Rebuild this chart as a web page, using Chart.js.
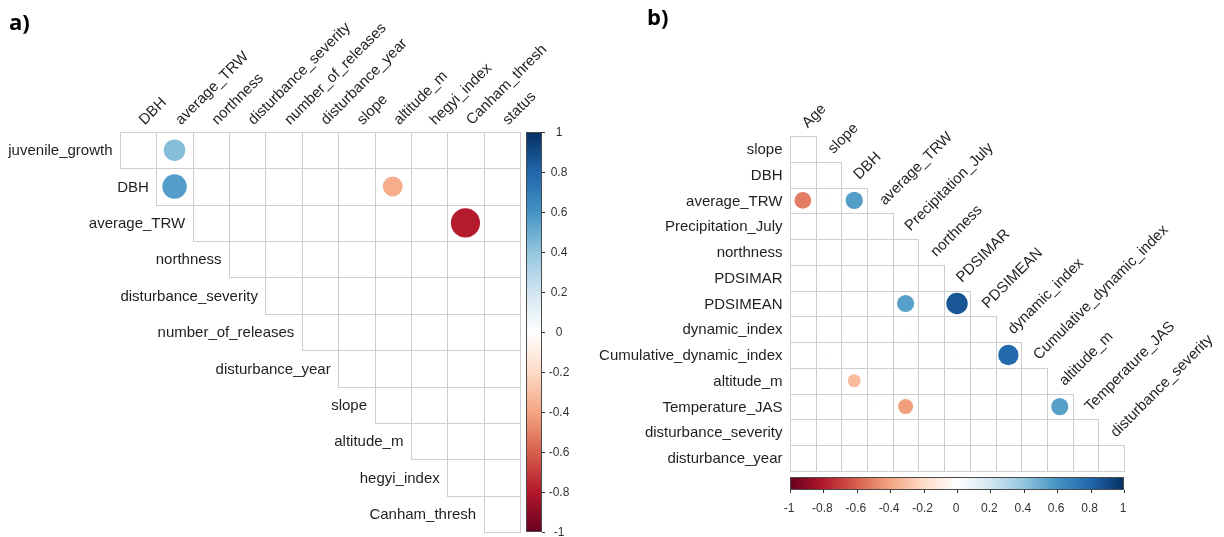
<!DOCTYPE html>
<html>
<head>
<meta charset="utf-8">
<script src="https://cdn.jsdelivr.net/npm/chart.js@4/dist/chart.umd.min.js"></script>
<style>
  html, body { margin: 0; padding: 0; background: #ffffff; }
  #wrap { position: relative; width: 1224px; height: 537px; overflow: hidden; background: #ffffff; }
  #wrap canvas { position: absolute; top: 0; }
</style>
</head>
<body>
<div id="wrap">
  <canvas id="panelA" width="612" height="537" style="left:0px"></canvas>
  <canvas id="panelB" width="694" height="537" style="left:530px"></canvas>
</div>
<script>
// ---- panel a: upper-triangle correlation matrix ----
const rowsA = ['juvenile_growth', 'DBH', 'average_TRW', 'northness', 'disturbance_severity',
  'number_of_releases', 'disturbance_year', 'slope', 'altitude_m', 'hegyi_index', 'Canham_thresh'];
const colsA = ['DBH', 'average_TRW', 'northness', 'disturbance_severity', 'number_of_releases',
  'disturbance_year', 'slope', 'altitude_m', 'hegyi_index', 'Canham_thresh', 'status'];
// significant correlations: [row, column, r]
const pairsA = [
  ['juvenile_growth', 'average_TRW', 0.43],
  ['DBH', 'average_TRW', 0.56],
  ['DBH', 'altitude_m', -0.37],
  ['average_TRW', 'Canham_thresh', -0.79]
];

// ---- panel b: lower-triangle correlation matrix ----
const rowsB = ['slope', 'DBH', 'average_TRW', 'Precipitation_July', 'northness', 'PDSIMAR',
  'PDSIMEAN', 'dynamic_index', 'Cumulative_dynamic_index', 'altitude_m', 'Temperature_JAS',
  'disturbance_severity', 'disturbance_year'];
const colsB = ['Age', 'slope', 'DBH', 'average_TRW', 'Precipitation_July', 'northness', 'PDSIMAR',
  'PDSIMEAN', 'dynamic_index', 'Cumulative_dynamic_index', 'altitude_m', 'Temperature_JAS',
  'disturbance_severity'];
const pairsB = [
  ['average_TRW', 'Age', -0.52],
  ['average_TRW', 'slope', 0.03],
  ['average_TRW', 'DBH', 0.56],
  ['PDSIMEAN', 'Precipitation_July', 0.55],
  ['PDSIMEAN', 'PDSIMAR', 0.86],
  ['dynamic_index', 'Precipitation_July', 0.02],
  ['Cumulative_dynamic_index', 'slope', 0.02],
  ['Cumulative_dynamic_index', 'PDSIMAR', 0.03],
  ['Cumulative_dynamic_index', 'dynamic_index', 0.78],
  ['altitude_m', 'DBH', -0.32],
  ['Temperature_JAS', 'average_TRW', -0.02],
  ['Temperature_JAS', 'Precipitation_July', -0.42],
  ['Temperature_JAS', 'altitude_m', 0.55]
];

// colour legend
const legendTicks = [-1, -0.8, -0.6, -0.4, -0.2, 0, 0.2, 0.4, 0.6, 0.8, 1];
const paletteRdBu = ['#67001F', '#B2182B', '#D6604D', '#F4A582', '#FDDBC7', '#FFFFFF',
  '#D1E5F0', '#92C5DE', '#4393C3', '#2166AC', '#053061'];

const LABEL_FONT = '15px "Liberation Sans", Arial, sans-serif';
const TICK_FONT = '12px "Liberation Sans", Arial, sans-serif';
const TAG_FONT = 'bold 22px "Open Sans", "Liberation Sans", sans-serif';
const TEXT_COLOR = '#1f1f1f';
const GRID_COLOR = '#cdcdcd';

function hexToRgb(h) {
  return [parseInt(h.slice(1, 3), 16), parseInt(h.slice(3, 5), 16), parseInt(h.slice(5, 7), 16)];
}
const paletteRgb = paletteRdBu.map(hexToRgb);

// map r in [-1, 1] onto the diverging palette
function corrColor(v) {
  const t = Math.max(0, Math.min(1, (v + 1) / 2)) * (paletteRgb.length - 1);
  const i = Math.min(paletteRgb.length - 2, Math.floor(t));
  const f = t - i;
  const a = paletteRgb[i], b = paletteRgb[i + 1];
  const c = a.map((x, k) => Math.round(x + (b[k] - x) * f));
  return 'rgb(' + c.join(',') + ')';
}

function toPoints(pairs, rows, cols) {
  return pairs.map(([r, c, v]) => ({ x: cols.indexOf(c), y: rows.indexOf(r), v: v }));
}

function cellSize(chart) {
  const xs = chart.scales.x, ys = chart.scales.y;
  const w = Math.abs(xs.getPixelForValue(1) - xs.getPixelForValue(0));
  const h = Math.abs(ys.getPixelForValue(1) - ys.getPixelForValue(0));
  return Math.min(w, h);
}

// outline every cell that belongs to the drawn triangle
function cellGridPlugin(rows, cols, inTriangle) {
  return {
    id: 'cellGrid',
    beforeDatasetsDraw(chart) {
      const ctx = chart.ctx, xs = chart.scales.x, ys = chart.scales.y;
      ctx.save();
      ctx.strokeStyle = GRID_COLOR;
      ctx.lineWidth = 1;
      for (let i = 0; i < rows.length; i++) {
        for (let j = 0; j < cols.length; j++) {
          if (!inTriangle(i, j)) continue;
          const xa = Math.round(xs.getPixelForValue(j - 0.5)) + 0.5;
          const xb = Math.round(xs.getPixelForValue(j + 0.5)) + 0.5;
          const ya = Math.round(ys.getPixelForValue(i - 0.5)) + 0.5;
          const yb = Math.round(ys.getPixelForValue(i + 0.5)) + 0.5;
          ctx.strokeRect(Math.min(xa, xb), Math.min(ya, yb), Math.abs(xb - xa), Math.abs(yb - ya));
        }
      }
      ctx.restore();
    }
  };
}

function drawTag(ctx, text, x, y) {
  ctx.save();
  ctx.font = TAG_FONT;
  ctx.fillStyle = '#000000';
  ctx.textAlign = 'left';
  ctx.textBaseline = 'alphabetic';
  ctx.fillText(text, x, y);
  ctx.restore();
}

function drawRotated(ctx, text, x, y) {
  ctx.save();
  ctx.translate(x, y);
  ctx.rotate(-Math.PI / 4);
  ctx.textAlign = 'left';
  ctx.textBaseline = 'alphabetic';
  ctx.fillText(text, 0, 0);
  ctx.restore();
}

function pointDataset(points) {
  const radius = (c) => c.raw ? 0.45 * Math.sqrt(Math.abs(c.raw.v)) * cellSize(c.chart) : 0;
  return {
    data: points,
    pointStyle: 'circle',
    borderWidth: 0,
    pointBorderWidth: 0,
    pointRadius: radius,
    pointHoverRadius: radius,
    pointBackgroundColor: (c) => c.raw ? corrColor(c.raw.v) : '#fff',
    pointBorderColor: (c) => c.raw ? corrColor(c.raw.v) : '#fff'
  };
}

function baseOptions(n, m, padding) {
  return {
    responsive: false,
    animation: false,
    events: [],
    layout: { padding: padding },
    plugins: { legend: { display: false }, tooltip: { enabled: false } },
    scales: {
      x: { type: 'linear', min: -0.5, max: m - 0.5, display: false },
      y: { type: 'linear', min: -0.5, max: n - 0.5, reverse: true, display: false }
    }
  };
}

// ---------- panel a ----------
const labelsA = {
  id: 'labelsA',
  afterDraw(chart) {
    const ctx = chart.ctx, xs = chart.scales.x, ys = chart.scales.y, area = chart.chartArea;
    ctx.save();
    ctx.font = LABEL_FONT;
    ctx.fillStyle = TEXT_COLOR;
    // row names sit just left of the first cell of each row
    ctx.textAlign = 'right';
    ctx.textBaseline = 'middle';
    rowsA.forEach((name, i) => {
      ctx.fillText(name, xs.getPixelForValue(i - 0.5) - 7.5, ys.getPixelForValue(i) + 1);
    });
    // column names along the top edge
    colsA.forEach((name, j) => {
      drawRotated(ctx, name, xs.getPixelForValue(j) + 6.5, area.top - 6.5);
    });
    // vertical colour legend
    const bx = area.right + 6, bw = 16, top = area.top, bot = area.bottom;
    const g = ctx.createLinearGradient(0, bot, 0, top);
    paletteRdBu.forEach((c, k) => g.addColorStop(k / (paletteRdBu.length - 1), c));
    ctx.fillStyle = g;
    ctx.fillRect(bx, top, bw, bot - top);
    ctx.strokeStyle = '#4a4a4a';
    ctx.lineWidth = 1;
    ctx.strokeRect(bx + 0.5, top + 0.5, bw - 1, bot - top - 1);
    ctx.font = TICK_FONT;
    ctx.fillStyle = '#333333';
    ctx.textAlign = 'center';
    ctx.textBaseline = 'middle';
    legendTicks.forEach((v) => {
      const y = bot - (v + 1) / 2 * (bot - top);
      ctx.beginPath();
      ctx.moveTo(bx + bw, Math.round(y) + 0.5);
      ctx.lineTo(bx + bw + 3, Math.round(y) + 0.5);
      ctx.strokeStyle = '#333333';
      ctx.stroke();
      ctx.fillText(String(v), bx + bw + 17, y + 0.5);
    });
    drawTag(ctx, 'a)', 9, 30);
    ctx.restore();
  }
};

new Chart(document.getElementById('panelA'), {
  type: 'scatter',
  data: { datasets: [pointDataset(toPoints(pairsA, rowsA, colsA))] },
  options: baseOptions(rowsA.length, colsA.length, { left: 120, right: 92, top: 132, bottom: 5 }),
  plugins: [cellGridPlugin(rowsA, colsA, (i, j) => j >= i), labelsA]
});

// ---------- panel b ----------
const labelsB = {
  id: 'labelsB',
  afterDraw(chart) {
    const ctx = chart.ctx, xs = chart.scales.x, ys = chart.scales.y, area = chart.chartArea;
    ctx.save();
    ctx.font = LABEL_FONT;
    ctx.fillStyle = TEXT_COLOR;
    ctx.textAlign = 'right';
    ctx.textBaseline = 'middle';
    rowsB.forEach((name, i) => {
      ctx.fillText(name, area.left - 7.5, ys.getPixelForValue(i) + 1);
    });
    // column names follow the staircase edge of the triangle
    colsB.forEach((name, j) => {
      drawRotated(ctx, name, xs.getPixelForValue(j) + 5, ys.getPixelForValue(j - 0.5) - 7.5);
    });
    // horizontal colour legend under the matrix
    const lx = area.left, rx = area.right, by = area.bottom + 6, bh = 13;
    const g = ctx.createLinearGradient(lx, 0, rx, 0);
    paletteRdBu.forEach((c, k) => g.addColorStop(k / (paletteRdBu.length - 1), c));
    ctx.fillStyle = g;
    ctx.fillRect(lx, by, rx - lx, bh);
    ctx.strokeStyle = '#4a4a4a';
    ctx.lineWidth = 1;
    ctx.strokeRect(lx + 0.5, by + 0.5, rx - lx - 1, bh - 1);
    ctx.font = TICK_FONT;
    ctx.fillStyle = '#333333';
    ctx.textAlign = 'center';
    ctx.textBaseline = 'middle';
    legendTicks.forEach((v) => {
      const x = lx + (v + 1) / 2 * (rx - lx);
      ctx.beginPath();
      ctx.moveTo(Math.round(x) + 0.5, by + bh);
      ctx.lineTo(Math.round(x) + 0.5, by + bh + 3);
      ctx.strokeStyle = '#333333';
      ctx.stroke();
      ctx.fillText(String(v), x - 1, by + bh + 19);
    });
    drawTag(ctx, 'b)', 117, 25);
    ctx.restore();
  }
};

new Chart(document.getElementById('panelB'), {
  type: 'scatter',
  data: { datasets: [pointDataset(toPoints(pairsB, rowsB, colsB))] },
  options: baseOptions(rowsB.length, colsB.length, { left: 260, right: 100, top: 136, bottom: 66 }),
  plugins: [cellGridPlugin(rowsB, colsB, (i, j) => j <= i), labelsB]
});
</script>
</body>
</html>
